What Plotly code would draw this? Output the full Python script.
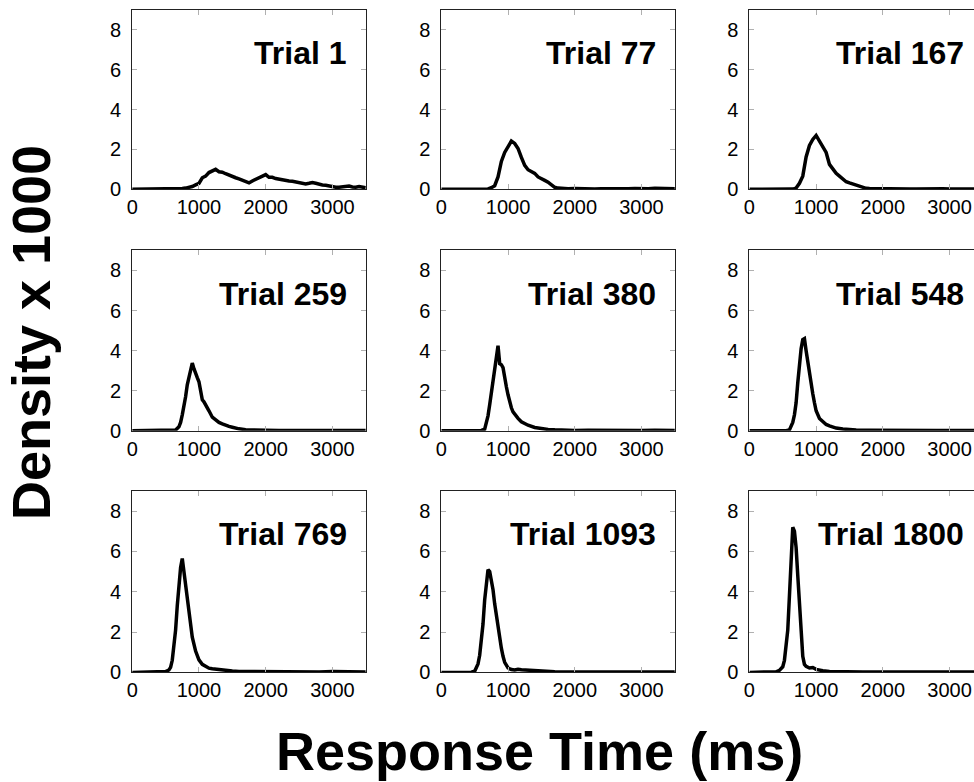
import plotly.graph_objects as go

# ---------------- data ----------------
trials = ["Trial 1", "Trial 77", "Trial 167",
          "Trial 259", "Trial 380", "Trial 548",
          "Trial 769", "Trial 1093", "Trial 1800"]

rt1 = [0, 300, 600, 650, 700, 750, 800, 850, 900, 950,
       1000, 1050, 1100, 1150, 1200, 1250, 1300, 1350, 1400, 1450,
       1500, 1550, 1600, 1650, 1700, 1750, 1800, 1850, 1900, 1950,
       2000, 2050, 2100, 2150, 2200, 2250, 2300, 2350, 2400, 2450,
       2500, 2550, 2600, 2650, 2700, 2750, 2800, 2850, 2900, 2950,
       3000, 3050, 3100, 3150, 3200, 3250, 3300, 3350, 3400, 3450,
       3500]
dens1 = [0, 0, 0, 0.01, 0.02, 0.04, 0.06, 0.09, 0.14, 0.22,
         0.3, 0.58, 0.66, 0.84, 0.9, 1.0, 0.88, 0.86, 0.78, 0.7,
         0.66, 0.58, 0.52, 0.46, 0.38, 0.32, 0.42, 0.5, 0.56, 0.62,
         0.74, 0.6, 0.6, 0.54, 0.5, 0.46, 0.44, 0.42, 0.4, 0.36,
         0.32, 0.3, 0.27, 0.3, 0.34, 0.3, 0.24, 0.22, 0.2, 0.16,
         0.12, 0.1, 0.1, 0.12, 0.14, 0.16, 0.12, 0.1, 0.14, 0.12,
         0.08]

rt2 = [0, 400, 600, 650, 700, 750, 800, 850, 900, 950,
       1000, 1050, 1100, 1150, 1200, 1250, 1300, 1350, 1400, 1450,
       1500, 1550, 1600, 1650, 1700, 1750, 1800, 1900, 2000, 2100,
       2200, 2300, 2400, 2500, 2600, 2700, 2800, 2900, 3000, 3100,
       3200, 3300, 3400, 3500]
dens2 = [0, 0, 0, 0, 0.02, 0.08, 0.18, 0.62, 1.4, 1.85,
         2.15, 2.42, 2.3, 2.05, 1.6, 1.2, 0.98, 0.9, 0.8, 0.62,
         0.55, 0.45, 0.36, 0.22, 0.1, 0.06, 0.04, 0.03, 0.04, 0.02,
         0.03, 0.02, 0.03, 0.02, 0.04, 0.02, 0.03, 0.04, 0.02, 0.03,
         0.05, 0.03, 0.04, 0.03]

rt3 = [0, 400, 600, 650, 700, 750, 800, 850, 900, 950,
       1000, 1050, 1100, 1150, 1200, 1250, 1300, 1350, 1400, 1450,
       1500, 1550, 1600, 1650, 1700, 1750, 1800, 1900, 2000, 2100,
       2200, 2300, 2400, 2500, 2600, 2700, 2800, 2900, 3000, 3100,
       3200, 3300, 3400, 3500]
dens3 = [0, 0, 0, 0.01, 0.06, 0.3, 0.66, 1.62, 2.2, 2.5,
         2.7, 2.4, 2.15, 1.85, 1.25, 1.0, 0.8, 0.66, 0.52, 0.38,
         0.32, 0.26, 0.24, 0.16, 0.1, 0.05, 0.04, 0.03, 0.02, 0.03,
         0.02, 0.03, 0.02, 0.02, 0.03, 0.02, 0.02, 0.03, 0.02, 0.02,
         0.02, 0.03, 0.02, 0.02]

rt4 = [0, 400, 550, 600, 650, 700, 725, 750, 775, 800,
       825, 850, 875, 900, 925, 950, 975, 1000, 1025, 1050,
       1075, 1100, 1150, 1200, 1250, 1300, 1350, 1400, 1450, 1500,
       1550, 1600, 1700, 1800, 1900, 2000, 2200, 2400, 2600, 2800,
       3000, 3200, 3400, 3500]
dens4 = [0, 0, 0, 0.01, 0.04, 0.2, 0.42, 0.8, 1.2, 1.7,
         2.3, 2.7, 3.1, 3.38, 3.1, 2.8, 2.65, 2.45, 2.0, 1.55,
         1.45, 1.32, 1.0, 0.68, 0.52, 0.42, 0.35, 0.26, 0.22, 0.18,
         0.13, 0.1, 0.06, 0.04, 0.03, 0.03, 0.02, 0.03, 0.02, 0.02,
         0.02, 0.02, 0.02, 0.02]

rt5 = [0, 400, 550, 600, 650, 675, 700, 725, 750, 775,
       800, 825, 850, 875, 900, 925, 950, 975, 1000, 1025,
       1050, 1075, 1100, 1150, 1200, 1250, 1300, 1400, 1500, 1600,
       1700, 1800, 2000, 2200, 2400, 2600, 2800, 3000, 3200, 3400,
       3500]
dens5 = [0, 0, 0, 0.02, 0.08, 0.4, 0.75, 1.3, 1.9, 2.7,
         3.3, 3.9, 4.25, 3.35, 3.3, 3.15, 2.6, 2.2, 1.8, 1.4,
         1.15, 0.95, 0.82, 0.62, 0.45, 0.34, 0.28, 0.17, 0.11, 0.07,
         0.05, 0.03, 0.02, 0.03, 0.02, 0.02, 0.02, 0.02, 0.03, 0.02,
         0.02]

rt6 = [0, 400, 500, 550, 600, 625, 650, 675, 700, 725,
       750, 775, 800, 825, 850, 875, 900, 925, 950, 975,
       1000, 1050, 1100, 1150, 1200, 1300, 1400, 1500, 1600, 1800,
       2000, 2200, 2400, 2600, 2800, 3000, 3200, 3400, 3500]
dens6 = [0, 0, 0, 0.01, 0.05, 0.2, 0.42, 0.8, 1.4, 2.4,
         3.5, 4.1, 4.55, 4.6, 4.0, 3.4, 2.8, 2.3, 1.85, 1.4,
         1.0, 0.62, 0.45, 0.32, 0.25, 0.14, 0.09, 0.06, 0.04, 0.03,
         0.02, 0.02, 0.03, 0.02, 0.02, 0.02, 0.02, 0.03, 0.02]

rt7 = [0, 400, 450, 500, 550, 575, 600, 625, 650, 675,
       700, 725, 750, 775, 800, 825, 850, 875, 900, 950,
       1000, 1050, 1100, 1150, 1200, 1300, 1400, 1500, 1600, 1800,
       2000, 2200, 2400, 2600, 2800, 3000, 3200, 3400, 3500]
dens7 = [0, 0, 0.02, 0.04, 0.12, 0.25, 0.6, 1.2, 2.1, 3.3,
         4.5, 5.2, 5.65, 5.0, 4.3, 3.7, 3.0, 2.2, 1.75, 1.06,
         0.62, 0.4, 0.3, 0.21, 0.18, 0.13, 0.1, 0.07, 0.05, 0.04,
         0.03, 0.02, 0.02, 0.02, 0.02, 0.04, 0.02, 0.02, 0.02]

rt8 = [0, 400, 450, 500, 525, 550, 575, 600, 625, 650,
       675, 700, 725, 750, 775, 800, 825, 850, 875, 900,
       925, 950, 1000, 1050, 1100, 1150, 1200, 1250, 1300, 1400,
       1500, 1700, 2000, 2300, 2600, 2900, 3200, 3500]
dens8 = [0, 0, 0.01, 0.06, 0.2, 0.42, 0.85, 1.5, 2.4, 3.6,
         4.6, 5.1, 5.0, 4.55, 4.1, 3.4, 2.8, 2.1, 1.7, 1.2,
         0.8, 0.5, 0.22, 0.14, 0.12, 0.16, 0.13, 0.12, 0.08, 0.07,
         0.05, 0.03, 0.02, 0.02, 0.02, 0.03, 0.02, 0.02]

rt9 = [0, 350, 400, 450, 500, 525, 550, 575, 600, 625,
       650, 675, 700, 725, 750, 775, 800, 825, 850, 900,
       950, 1000, 1050, 1100, 1200, 1300, 1500, 1700, 2000, 2300,
       2600, 2900, 3200, 3500]
dens9 = [0, 0, 0.03, 0.1, 0.28, 0.6, 1.2, 2.1, 3.8, 6.0,
         7.2, 7.0, 6.2, 4.8, 3.2, 1.6, 0.8, 0.4, 0.3, 0.22,
         0.24, 0.15, 0.1, 0.08, 0.05, 0.04, 0.03, 0.02, 0.02, 0.02,
         0.02, 0.02, 0.02, 0.02]

x_ticks = [0, 1000, 2000, 3000]
y_ticks = [0, 2, 4, 6, 8]
x_title = "Response Time (ms)"
y_title = "Density x 1000"

rts = [rt1, rt2, rt3, rt4, rt5, rt6, rt7, rt8, rt9]
dens = [dens1, dens2, dens3, dens4, dens5, dens6, dens7, dens8, dens9]

# ---------------- layout geometry ----------------
W, H = 974, 782
col_px = [(127, 362), (438, 673), (748, 974)]
row_px = [(10, 192), (254, 437), (498, 682)]
px_per_ms = 235 / 3500.0

FONT = "Liberation Sans, Arial, Helvetica, sans-serif"

fig = go.Figure()
layout = dict(
    width=W, height=H,
    margin=dict(l=0, r=0, t=0, b=0),
    paper_bgcolor="white", plot_bgcolor="white",
    showlegend=False,
    font=dict(family=FONT, color="black"),
)
annotations = []

for k in range(9):
    r, c = divmod(k, 3)
    idx = "" if k == 0 else str(k + 1)
    x0, x1 = col_px[c]
    ytop, ybot = row_px[r]
    xmax = (x1 - x0) / px_per_ms
    fig.add_trace(go.Scatter(
        x=rts[k], y=dens[k], mode="lines",
        line=dict(color="black", width=3.5),
        xaxis="x" + idx, yaxis="y" + idx, hoverinfo="skip",
    ))
    layout["xaxis" + idx] = dict(
        domain=[x0 / W, x1 / W], anchor="y" + idx,
        range=[0, xmax], tickvals=x_ticks,
        ticks="inside", ticklen=5, tickcolor="#b0b0b0",
        showline=True, linecolor="#222", linewidth=1, mirror="ticks",
        showgrid=False, zeroline=False,
        tickfont=dict(size=20, family=FONT, color="black"),
    )
    layout["yaxis" + idx] = dict(
        domain=[1 - ybot / H, 1 - ytop / H], anchor="x" + idx,
        range=[0, 9], tickvals=y_ticks,
        ticks="inside", ticklen=5, tickcolor="#b0b0b0",
        showline=True, linecolor="#222", linewidth=1,
        mirror=("ticks" if c < 2 else False),
        showgrid=False, zeroline=False, ticklabelstandoff=6,
        tickfont=dict(size=20, family=FONT, color="black"),
    )
    annotations.append(dict(
        text=trials[k], xref="x" + idx, yref="y" + idx,
        x=3250, y=6.85, xanchor="right", yanchor="middle", showarrow=False,
        font=dict(size=32, family=FONT, color="black", weight="bold"),
    ))

annotations.append(dict(
    text=y_title, xref="paper", yref="paper", x=25 / W, y=1 - 337 / H,
    xanchor="center", yanchor="middle", textangle=-90, showarrow=False,
    font=dict(size=54, family=FONT, color="black", weight="bold"),
))
annotations.append(dict(
    text=x_title, xref="paper", yref="paper", x=537 / W, y=1 - 762 / H,
    xanchor="center", yanchor="middle", showarrow=False,
    font=dict(size=54, family=FONT, color="black", weight="bold"),
))
layout["annotations"] = annotations
fig.update_layout(**layout)
fig.write_html("out.html")
